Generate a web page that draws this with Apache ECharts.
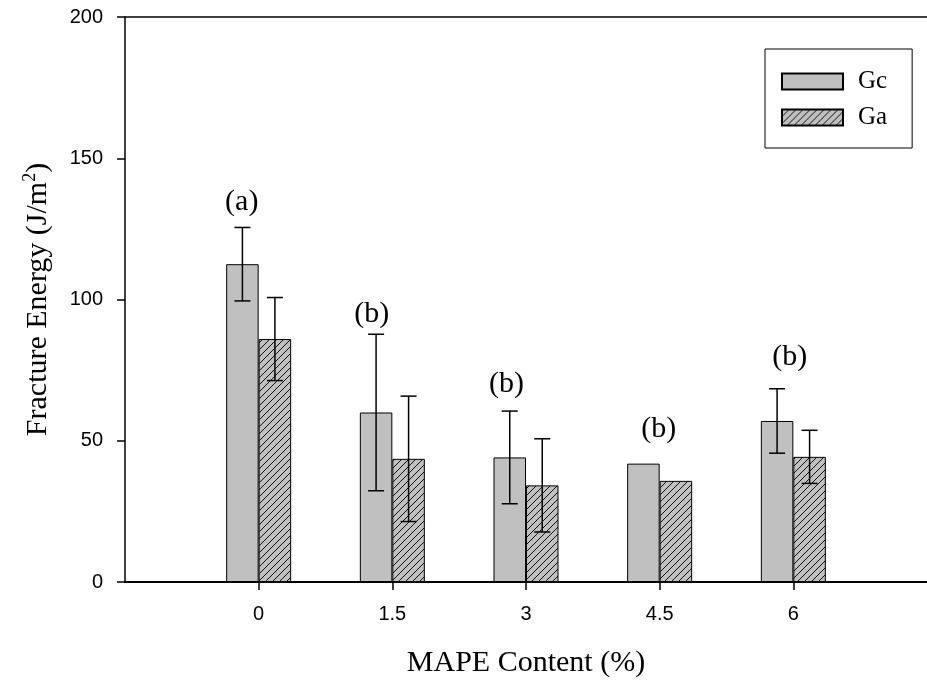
<!DOCTYPE html>
<html>
<head>
<meta charset="utf-8">
<script src="https://cdn.jsdelivr.net/npm/echarts@6/dist/echarts.min.js"></script>
<style>
  html, body { margin: 0; padding: 0; background: #fff; }
  #chart { width: 927px; height: 683px; }
</style>
</head>
<body>
<div id="chart"></div>
<script>
// MAPE content levels (%)
const categories = [0, 1.5, 3, 4.5, 6];
// Critical fracture energy Gc and arrest fracture energy Ga (J/m^2), with standard deviations
const gcMean = [112.5, 60.0, 44.1, 41.9, 57.0];
const gcErr  = [13.0, 27.7, 16.4, null, 11.4];
const gaMean = [86.0, 43.6, 34.2, 35.8, 44.3];
const gaErr  = [14.7, 22.2, 16.5, null, 9.4];
// Statistical grouping letters and where they sit (x in % MAPE, y in J/m^2)
const groupLetters = ['(a)', '(b)', '(b)', '(b)', '(b)'];
const letterX = [-0.19, 1.27, 2.78, 4.49, 5.96];
const letterY = [134.5, 95.0, 70.0, 54.0, 79.5];
// Axis ticks
const xTicks = [0, 1.5, 3, 4.5, 6];
const yTicks = [0, 50, 100, 150, 200];

const BAR_PX = 32.5;
const SERIF = '"Liberation Serif", "Times New Roman", serif';
const SANS = '"Liberation Sans", Arial, sans-serif';

// Diagonal hatch fill for the Ga bars
function hatchPattern() {
  const s = 7;
  const c = document.createElement('canvas');
  c.width = s; c.height = s;
  const g = c.getContext('2d');
  g.fillStyle = '#c0c0c0';
  g.fillRect(0, 0, s, s);
  g.strokeStyle = '#111';
  g.lineWidth = 1;
  g.beginPath();
  g.moveTo(-1, s + 1); g.lineTo(s + 1, -1);
  g.moveTo(-1, 1); g.lineTo(1, -1);
  g.moveTo(s - 1, s + 1); g.lineTo(s + 1, s - 1);
  g.stroke();
  return c;
}
const hatch = { image: hatchPattern(), repeat: 'repeat' };

function errorSeries(name, means, errs, side) {
  return {
    type: 'custom',
    name: name + ' error',
    xAxisIndex: 0, yAxisIndex: 0,
    silent: true,
    z: 5,
    data: categories.map((c, i) => [c, means[i], errs[i] == null ? 0 : errs[i]]),
    renderItem: function (params, api) {
      const err = api.value(2);
      if (!err) return null;
      const m = api.value(1);
      const hi = api.coord([api.value(0), m + err]);
      const lo = api.coord([api.value(0), m - err]);
      const x = hi[0] + side * BAR_PX / 2;
      const cap = 8;
      const st = { stroke: '#000', lineWidth: 1.5 };
      return {
        type: 'group',
        children: [
          { type: 'line', shape: { x1: x, y1: hi[1], x2: x, y2: lo[1] }, style: st },
          { type: 'line', shape: { x1: x - cap, y1: hi[1], x2: x + cap, y2: hi[1] }, style: st },
          { type: 'line', shape: { x1: x - cap, y1: lo[1], x2: x + cap, y2: lo[1] }, style: st }
        ]
      };
    }
  };
}

const chart = echarts.init(document.getElementById('chart'), null, { renderer: 'canvas' });
chart.setOption({
  animation: false,
  backgroundColor: '#fff',
  grid: { left: 125, top: 17, width: 810, height: 566, containLabel: false },
  legend: {
    orient: 'vertical',
    left: 765, top: 49,
    icon: 'rect',
    itemWidth: 61, itemHeight: 16, itemGap: 11,
    padding: [20, 25, 18, 16],
    borderColor: '#000', borderWidth: 1,
    textStyle: { fontFamily: SERIF, fontSize: 25, color: '#000', lineHeight: 24, padding: [0, 0, 0, 10] },
    data: ['Gc', 'Ga']
  },
  xAxis: [{
    type: 'value', min: -1.5, max: 7.5, interval: 1.5,
    splitLine: { show: false },
    axisLine: { onZero: false, lineStyle: { color: '#000', width: 2 } },
    axisTick: { show: true, length: 8, customValues: xTicks, lineStyle: { color: '#000', width: 1.5 } },
    axisLabel: { customValues: xTicks, margin: 22, fontFamily: SANS, fontSize: 20, color: '#000' },
    name: 'MAPE Content (%)',
    nameLocation: 'middle',
    nameGap: 66,
    nameTextStyle: { fontFamily: SERIF, fontSize: 30, color: '#000' }
  }, {
    type: 'value', position: 'top', min: -1.5, max: 7.5,
    axisLine: { show: true, onZero: false, lineStyle: { color: '#000', width: 1.5 } },
    axisTick: { show: false }, axisLabel: { show: false }, splitLine: { show: false }
  }],
  yAxis: {
    type: 'value', min: 0, max: 200, interval: 50,
    splitLine: { show: false },
    axisLine: { show: true, onZero: false, lineStyle: { color: '#000', width: 1.5 } },
    axisTick: { show: true, length: 8, inside: false, customValues: yTicks, lineStyle: { color: '#000', width: 1.5 } },
    axisLabel: { customValues: yTicks, margin: 22, fontFamily: SANS, fontSize: 20, color: '#000' },
    name: '{t|Fracture Energy (J/m}{s|2}{t|)}',
    nameLocation: 'middle',
    nameGap: 72,
    nameRotate: 90,
    nameTextStyle: {
      rich: {
        t: { fontFamily: SERIF, fontSize: 30, color: '#000', verticalAlign: 'bottom', lineHeight: 32 },
        s: { fontFamily: SERIF, fontSize: 18, color: '#000', verticalAlign: 'top', padding: [0, 0, 12, 0], lineHeight: 32 }
      }
    }
  },
  series: [
    {
      type: 'bar', name: 'Gc',
      barWidth: BAR_PX, barGap: '0%',
      itemStyle: { color: '#c0c0c0', borderColor: '#000', borderWidth: 1 },
      data: categories.map((c, i) => [c, gcMean[i]])
    },
    {
      type: 'bar', name: 'Ga',
      barWidth: BAR_PX, barGap: '0%',
      itemStyle: { color: hatch, borderColor: '#000', borderWidth: 1 },
      data: categories.map((c, i) => [c, gaMean[i]])
    },
    errorSeries('Gc', gcMean, gcErr, -1),
    errorSeries('Ga', gaMean, gaErr, 1),
    {
      type: 'custom', name: 'groups', silent: true, z: 6,
      data: groupLetters.map((t, i) => [letterX[i], letterY[i], t]),
      renderItem: function (params, api) {
        const p = api.coord([api.value(0), api.value(1)]);
        return {
          type: 'text',
          style: {
            text: groupLetters[params.dataIndex],
            x: p[0], y: p[1],
            align: 'center', verticalAlign: 'middle',
            font: '30px ' + SERIF, fill: '#000'
          }
        };
      }
    }
  ]
});
</script>
</body>
</html>
